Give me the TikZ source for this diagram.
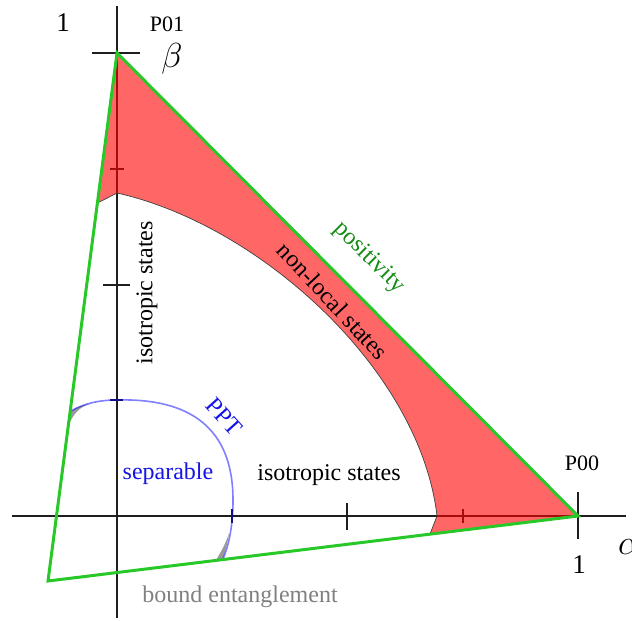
\documentclass[tikz,border=0pt]{standalone}
\usepackage{fontspec}
\setmainfont{Liberation Serif}
\definecolor{posgreen}{RGB}{40,200,40}
\definecolor{txtgreen}{RGB}{20,140,20}
\definecolor{txtblue}{RGB}{20,20,230}
\definecolor{axisgray}{RGB}{30,30,30}
\begin{document}
\begin{tikzpicture}[x=1bp,y=-1bp,
  axis/.style={line width=1.4bp, axisgray},
  tickmark/.style={line width=1.4bp, axisgray},
  lbl/.style={inner sep=0pt, font=\fontsize{24bp}{28bp}\selectfont},
  plbl/.style={inner sep=0pt, font=\fontsize{22bp}{26bp}\selectfont},
  onelbl/.style={inner sep=0pt, font=\fontsize{27bp}{32bp}\selectfont},
  mathlbl/.style={inner sep=0pt, scale=1.4, font=\fontsize{24bp}{28bp}\selectfont},
  posline/.style={posgreen, line width=3bp, line join=miter},
  pptline/.style={blue, draw opacity=0.5, line width=1.6bp},
  nlfill/.style={fill=red, fill opacity=0.6},
  nledge/.style={draw=black!75, line width=0.7bp}]
\useasboundingbox (0,0) rectangle (632,621);
% key points
\coordinate (O) at (117,516);
\coordinate (P01) at (117,53);
\coordinate (P00) at (578,516);
\coordinate (C) at (48,581);
\coordinate (xa) at (12,516);
\coordinate (xb) at (626,516);
\coordinate (ya) at (117,6);
\coordinate (yb) at (117,618);
% axes
\draw[axis] (xa) -- (xb);
\draw[axis] (ya) -- (yb);
% ticks
\coordinate (t1a) at (92,53);  \coordinate (t1b) at (140,53);
\coordinate (t2a) at (578,492); \coordinate (t2b) at (578,539);
\coordinate (t3a) at (103,285); \coordinate (t3b) at (130,285);
\coordinate (t4a) at (347,503); \coordinate (t4b) at (347,530);
\coordinate (t5a) at (110,169); \coordinate (t5b) at (124,169);
\coordinate (t6a) at (110,400); \coordinate (t6b) at (123,400);
\coordinate (t7a) at (232,509); \coordinate (t7b) at (232,523);
\coordinate (t8a) at (463,509); \coordinate (t8b) at (463,523);
\draw[tickmark] (t1a) -- (t1b);
\draw[tickmark] (t2a) -- (t2b);
\draw[tickmark] (t3a) -- (t3b);
\draw[tickmark] (t4a) -- (t4b);
\draw[tickmark] (t5a) -- (t5b);
\draw[tickmark] (t6a) -- (t6b);
\draw[tickmark] (t7a) -- (t7b);
\draw[tickmark] (t8a) -- (t8b);
% non-local region
\coordinate (R1) at (430,534);
\coordinate (R2) at (437,516);
\coordinate (R3) at (117,193);
\coordinate (R4) at (97.5,203);
\coordinate (Rc1) at (420,370);
\coordinate (Rc2) at (260,225);
\fill[nlfill] (P01) -- (P00) -- (R1) -- (R2) .. controls (Rc1) and (Rc2) .. (R3) -- (R4) -- cycle;
\draw[nledge] (R1) -- (R2) .. controls (Rc1) and (Rc2) .. (R3) -- (R4);
% bound entanglement slivers
\fill[gray!80] (70.5,412) .. controls (76,407) and (82,405) .. (90,404) .. controls (80,407) and (75,412) .. (70,422) -- cycle;
\fill[gray!80] (229,533) .. controls (228,542) and (225,551) .. (223,559) -- (216,560) .. controls (221,552) and (226,543) .. (229,533) -- cycle;
% PPT boundary
\coordinate (B1) at (71,411);
\coordinate (B2) at (117,400);
\coordinate (B3) at (233,500);
\coordinate (B4) at (223,559);
\draw[pptline] (B1) .. controls (85,403) and (100,400) .. (B2)
  .. controls (190,398) and (233,428) .. (B3)
  .. controls (233,525) and (229,545) .. (B4);
% positivity triangle
\draw[posline] (P01) -- (P00) -- (C) -- cycle;
% labels
\node[onelbl] (one1) at (63,23) {1};
\node[plbl] (p01) at (167,24) {P01};
\node[mathlbl] (beta) at (172,59) {$\beta$};
\node[plbl] (p00) at (582,463) {P00};
\node[onelbl] (one2) at (579,565) {1};
\node[mathlbl] (alpha) at (629,547) {$\alpha$};
\node[lbl, text=txtgreen, rotate=-45] (pos) at (369,258) {positivity};
\node[lbl, rotate=-47] (nl) at (333,301) {non-local states};
\node[lbl, rotate=90] (iso1) at (147,293) {isotropic states};
\node[lbl, text=txtblue, rotate=-48] (ppt) at (224,417) {PPT};
\node[lbl, text=txtblue] (sep) at (168,474) {separable};
\node[lbl] (iso2) at (329,475) {isotropic states};
\node[lbl, text=gray] (bound) at (240,597) {bound entanglement};
\end{tikzpicture}
\end{document}
